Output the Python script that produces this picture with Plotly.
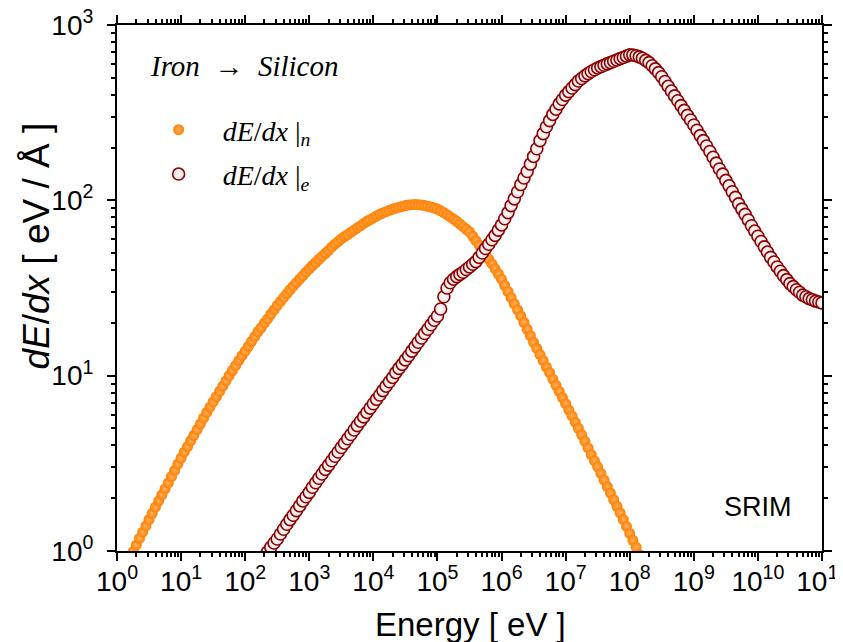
import plotly.graph_objects as go

# Nuclear stopping dE/dx|n  (energy in eV, value in eV/Angstrom)
energy_n = [
    1.58e0, 1.78e0, 2.0e0, 2.24e0, 2.51e0, 2.82e0, 3.16e0, 3.55e0, 3.98e0, 4.47e0, 5.01e0, 5.62e0, 6.31e0, 7.08e0, 7.94e0, 8.91e0,
    1.0e1, 1.12e1, 1.26e1, 1.41e1, 1.58e1, 1.78e1, 2.0e1, 2.24e1, 2.51e1, 2.82e1, 3.16e1, 3.55e1, 3.98e1, 4.47e1, 5.01e1, 5.62e1, 6.31e1, 7.08e1, 7.94e1, 8.91e1,
    1.0e2, 1.12e2, 1.26e2, 1.41e2, 1.58e2, 1.78e2, 2.0e2, 2.24e2, 2.51e2, 2.82e2, 3.16e2, 3.55e2, 3.98e2, 4.47e2, 5.01e2, 5.62e2, 6.31e2, 7.08e2, 7.94e2, 8.91e2,
    1.0e3, 1.12e3, 1.26e3, 1.41e3, 1.58e3, 1.78e3, 2.0e3, 2.24e3, 2.51e3, 2.82e3, 3.16e3, 3.55e3, 3.98e3, 4.47e3, 5.01e3, 5.62e3, 6.31e3, 7.08e3, 7.94e3, 8.91e3,
    1.0e4, 1.12e4, 1.26e4, 1.41e4, 1.58e4, 1.78e4, 2.0e4, 2.24e4, 2.51e4, 2.82e4, 3.16e4, 3.55e4, 3.98e4, 4.47e4, 5.01e4, 5.62e4, 6.31e4, 7.08e4, 7.94e4, 8.91e4,
    1.0e5, 1.12e5, 1.26e5, 1.41e5, 1.58e5, 1.78e5, 2.0e5, 2.24e5, 2.51e5, 2.82e5, 3.16e5, 3.55e5, 3.98e5, 4.47e5, 5.01e5, 5.62e5, 6.31e5, 7.08e5, 7.94e5, 8.91e5,
    1.0e6, 1.12e6, 1.26e6, 1.41e6, 1.58e6, 1.78e6, 2.0e6, 2.24e6, 2.51e6, 2.82e6, 3.16e6, 3.55e6, 3.98e6, 4.47e6, 5.01e6, 5.62e6, 6.31e6, 7.08e6, 7.94e6, 8.91e6,
    1.0e7, 1.12e7, 1.26e7, 1.41e7, 1.58e7, 1.78e7, 2.0e7, 2.24e7, 2.51e7, 2.82e7, 3.16e7, 3.55e7, 3.98e7, 4.47e7, 5.01e7, 5.62e7, 6.31e7, 7.08e7, 7.94e7, 8.91e7,
    1.0e8, 1.12e8, 1.26e8, 1.41e8, 1.58e8,
]
dedx_n = [
    0.912, 0.99, 1.08, 1.18, 1.28, 1.39, 1.51, 1.64, 1.78, 1.93, 2.09, 2.26, 2.45, 2.66, 2.88, 3.13,
    3.39, 3.66, 3.94, 4.25, 4.57, 4.93, 5.31, 5.73, 6.17, 6.61, 7.08, 7.59, 8.13, 8.71, 9.33, 10.0, 10.7, 11.4, 12.2, 13.0,
    13.8, 14.7, 15.7, 16.7, 17.8, 18.8, 20.0, 21.1, 22.4, 23.7, 25.1, 26.5, 27.9, 29.4, 30.9, 32.4, 33.9, 35.5, 37.2, 38.9,
    40.7, 42.5, 44.2, 46.0, 47.9, 49.9, 51.9, 54.1, 56.2, 58.2, 60.3, 62.1, 63.8, 65.8, 67.6, 69.7, 71.6, 73.8, 75.9, 77.6,
    79.4, 81.3, 83.2, 84.7, 86.1, 87.7, 89.1, 90.2, 91.2, 92.3, 93.3, 94.0, 94.4, 94.6, 94.4, 94.0, 93.3, 92.5, 91.6, 90.4,
    89.1, 87.1, 85.1, 82.8, 80.4, 78.2, 75.9, 73.3, 70.8, 68.4, 66.1, 62.4, 58.9, 55.6, 52.5, 49.3, 46.2, 43.4, 40.7, 38.0,
    35.5, 32.7, 30.2, 27.9, 25.7, 23.7, 21.9, 20.1, 18.4, 16.9, 15.5, 14.3, 13.2, 12.2, 11.2, 10.4, 9.55, 8.81, 8.13, 7.50,
    6.92, 6.38, 5.89, 5.43, 5.01, 4.60, 4.22, 3.87, 3.55, 3.27, 3.02, 2.77, 2.54, 2.33, 2.14, 1.96, 1.80, 1.65, 1.51, 1.38,
    1.26, 1.15, 1.05, 0.955, 0.871,
]

# Electronic stopping dE/dx|e
energy_e = [
    2.0e2, 2.24e2, 2.51e2, 2.82e2, 3.16e2, 3.55e2, 3.98e2, 4.47e2, 5.01e2, 5.62e2, 6.31e2, 7.08e2, 7.94e2, 8.91e2,
    1.0e3, 1.12e3, 1.26e3, 1.41e3, 1.58e3, 1.78e3, 2.0e3, 2.24e3, 2.51e3, 2.82e3, 3.16e3, 3.55e3, 3.98e3, 4.47e3, 5.01e3, 5.62e3, 6.31e3, 7.08e3, 7.94e3, 8.91e3,
    1.0e4, 1.12e4, 1.26e4, 1.41e4, 1.58e4, 1.78e4, 2.0e4, 2.24e4, 2.51e4, 2.82e4, 3.16e4, 3.55e4, 3.98e4, 4.47e4, 5.01e4, 5.62e4, 6.31e4, 7.08e4, 7.94e4, 8.91e4,
    1.0e5, 1.12e5, 1.26e5, 1.41e5, 1.58e5, 1.78e5, 2.0e5, 2.24e5, 2.51e5, 2.82e5, 3.16e5, 3.55e5, 3.98e5, 4.47e5, 5.01e5, 5.62e5, 6.31e5, 7.08e5, 7.94e5, 8.91e5,
    1.0e6, 1.12e6, 1.26e6, 1.41e6, 1.58e6, 1.78e6, 2.0e6, 2.24e6, 2.51e6, 2.82e6, 3.16e6, 3.55e6, 3.98e6, 4.47e6, 5.01e6, 5.62e6, 6.31e6, 7.08e6, 7.94e6, 8.91e6,
    1.0e7, 1.12e7, 1.26e7, 1.41e7, 1.58e7, 1.78e7, 2.0e7, 2.24e7, 2.51e7, 2.82e7, 3.16e7, 3.55e7, 3.98e7, 4.47e7, 5.01e7, 5.62e7, 6.31e7, 7.08e7, 7.94e7, 8.91e7,
    1.0e8, 1.12e8, 1.26e8, 1.41e8, 1.58e8, 1.78e8, 2.0e8, 2.24e8, 2.51e8, 2.82e8, 3.16e8, 3.55e8, 3.98e8, 4.47e8, 5.01e8, 5.62e8, 6.31e8, 7.08e8, 7.94e8, 8.91e8,
    1.0e9, 1.12e9, 1.26e9, 1.41e9, 1.58e9, 1.78e9, 2.0e9, 2.24e9, 2.51e9, 2.82e9, 3.16e9, 3.55e9, 3.98e9, 4.47e9, 5.01e9, 5.62e9, 6.31e9, 7.08e9, 7.94e9, 8.91e9,
    1.0e10, 1.12e10, 1.26e10, 1.41e10, 1.58e10, 1.78e10, 2.0e10, 2.24e10, 2.51e10, 2.82e10, 3.16e10, 3.55e10, 3.98e10, 4.47e10, 5.01e10, 5.62e10, 6.31e10, 7.08e10, 7.94e10, 8.91e10,
    1.0e11,
]
dedx_e = [
    0.933, 0.989, 1.05, 1.11, 1.17, 1.25, 1.33, 1.42, 1.51, 1.60, 1.70, 1.81, 1.93, 2.04,
    2.16, 2.31, 2.45, 2.60, 2.75, 2.92, 3.09, 3.27, 3.47, 3.67, 3.89, 4.12, 4.37, 4.62, 4.90, 5.19, 5.50, 5.82, 6.17, 6.53,
    6.92, 7.33, 7.76, 8.22, 8.71, 9.23, 9.77, 10.4, 11.0, 11.6, 12.3, 13.0, 13.8, 14.6, 15.5, 16.4, 17.4, 18.4, 19.5, 20.7,
    21.9, 24.0, 28.2, 31.6, 33.9, 35.5, 36.7, 37.8, 38.9, 40.3, 41.7, 43.2, 44.7, 47.3, 50.1, 53.1, 56.2, 59.6, 63.1, 67.6,
    72.4, 78.5, 85.1, 93.3, 102, 112, 123, 134, 146, 161, 178, 197, 219, 240, 263, 285, 309, 331, 355, 376,
    398, 417, 437, 457, 479, 495, 513, 528, 543, 556, 569, 579, 589, 600, 610, 621, 631, 643, 653, 665,
    676, 675, 668, 658, 646, 628, 610, 586, 562, 535, 507, 476, 447, 420, 394, 370, 347, 326, 305, 287,
    269, 251, 234, 219, 204, 190, 176, 163, 151, 141, 130, 121, 112, 104, 95.5, 89.1, 83.2, 77.3, 71.6, 66.8,
    62.4, 58.2, 54.3, 50.7, 47.3, 44.5, 41.7, 39.4, 37.2, 35.3, 33.5, 32.2, 30.9, 29.9, 28.8, 28.2, 27.5, 27.1, 26.6, 26.3,
    26.0,
]

x_tickvals = [1e0, 1e1, 1e2, 1e3, 1e4, 1e5, 1e6, 1e7, 1e8, 1e9, 1e10, 1e11]
x_ticktext = ["10<sup>0</sup>", "10<sup>1</sup>", "10<sup>2</sup>", "10<sup>3</sup>",
              "10<sup>4</sup>", "10<sup>5</sup>", "10<sup>6</sup>", "10<sup>7</sup>",
              "10<sup>8</sup>", "10<sup>9</sup>", "10<sup>10</sup>", "10<sup>11</sup>"]
y_tickvals = [1e0, 1e1, 1e2, 1e3]
y_ticktext = ["10<sup>0</sup>", "10<sup>1</sup>", "10<sup>2</sup>", "10<sup>3</sup>"]

SANS = "Liberation Sans, Arial, sans-serif"
SERIF = "Liberation Serif, Times New Roman, serif"

fig = go.Figure()
fig.add_trace(go.Scatter(
    x=energy_n, y=dedx_n, mode="markers", legendgroup="n",
    name="<i>dE</i>/<i>dx</i> |<sub><i>n</i></sub>",
    marker=dict(symbol="circle", size=11, color="#FF8000",
                gradient=dict(type="radial", color="#FFB060"),
                line=dict(width=0)),
))
fig.add_trace(go.Scatter(
    x=energy_e, y=dedx_e, mode="markers", legendgroup="e",
    name="<i>dE</i>/<i>dx</i> |<sub><i>e</i></sub>",
    marker=dict(symbol="circle", size=12, color="#F4E0E0",
                gradient=dict(type="radial", color="#FFFFFF"),
                line=dict(width=1.6, color="#8B0000")),
))

axis_common = dict(
    showline=True, linecolor="black", linewidth=2, mirror="allticks",
    ticks="outside", ticklen=8, tickwidth=2, tickcolor="black",
    showgrid=False, zeroline=False, automargin=False,
    ticklabeloverflow="allow",
    tickfont=dict(family=SANS, size=28, color="black"),
    minor=dict(ticks="outside", ticklen=4, tickwidth=1.5, tickcolor="black",
               dtick="D1", showgrid=False),
)

fig.update_xaxes(type="log", range=[0, 11], tickvals=x_tickvals, ticktext=x_ticktext,
                 ticklabelstandoff=-4, **axis_common)
fig.update_yaxes(type="log", range=[0, 3], tickvals=y_tickvals, ticktext=y_ticktext,
                 ticklabelstandoff=8, **axis_common)

# The page body adds an 8 px offset, so the figure is 8 px smaller each way
fig.update_layout(
    width=835, height=634,
    margin=dict(l=109, r=21, t=17, b=91),
    paper_bgcolor="white", plot_bgcolor="white",
    showlegend=True,
    legend=dict(x=0.025, y=0.848, xanchor="left", yanchor="top",
                bgcolor="rgba(0,0,0,0)", borderwidth=0,
                font=dict(family=SERIF, size=28, color="black"),
                itemwidth=78, tracegroupgap=5),
    annotations=[
        dict(text="<i>Iron</i>  →  <i>Silicon</i>", xref="paper", yref="paper",
             x=0.044, y=0.923, xanchor="left", yanchor="middle", showarrow=False,
             font=dict(family=SERIF, size=29, color="black")),
        dict(text="SRIM", xref="paper", yref="paper",
             x=0.909, y=0.084, xanchor="center", yanchor="middle", showarrow=False,
             font=dict(family=SANS, size=27, color="black")),
        dict(text="Energy [ eV ]", xref="paper", yref="paper",
             x=0.502, y=-0.14, xanchor="center", yanchor="middle", showarrow=False,
             font=dict(family=SANS, size=33, color="black")),
        dict(text="<i>dE</i>/<i>dx</i> [ eV / Å ]", xref="paper", yref="paper",
             x=-0.114, y=0.58, xanchor="center", yanchor="middle", showarrow=False,
             textangle=-90, font=dict(family=SANS, size=37, color="black")),
    ],
)

fig.write_html("out.html")
